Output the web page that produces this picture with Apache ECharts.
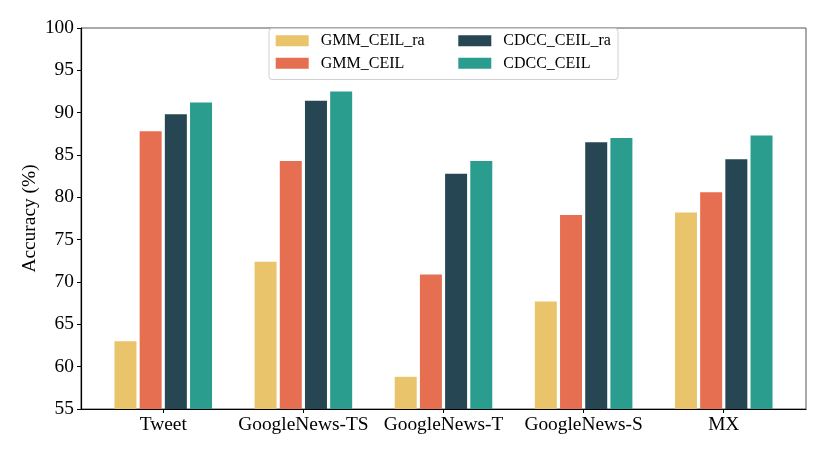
<!DOCTYPE html>
<html>
<head>
<meta charset="utf-8">
<script src="https://cdn.jsdelivr.net/npm/echarts@6/dist/echarts.min.js"></script>
<style>
  html, body { margin: 0; padding: 0; background: #fff; }
  #chart { width: 830px; height: 457px; }
</style>
</head>
<body>
<div id="chart"></div>
<script>
// data
const categories = ['Tweet', 'GoogleNews-TS', 'GoogleNews-T', 'GoogleNews-S', 'MX'];
const gmmCeilRa  = [63.0, 72.4, 58.8, 67.7, 78.2];
const gmmCeil    = [87.8, 84.3, 70.9, 77.9, 80.6];
const cdccCeilRa = [89.8, 91.4, 82.8, 86.5, 84.5];
const cdccCeil   = [91.2, 92.5, 84.3, 87.0, 87.3];
const yTicks = [55, 60, 65, 70, 75, 80, 85, 90, 95, 100];

const FONT = '"Liberation Serif", "Times New Roman", serif';
const positions = categories.map((_, i) => i);

function bars(name, values, color) {
  return {
    name: name,
    type: 'bar',
    data: values.map((v, i) => [positions[i], v]),
    barWidth: 22,
    barGap: '14.5%',
    itemStyle: { color: color },
    emphasis: { disabled: true }
  };
}

const chart = echarts.init(document.getElementById('chart'), null, { renderer: 'canvas' });

chart.setOption({
  animation: false,
  backgroundColor: '#fff',
  textStyle: { fontFamily: FONT },
  grid: {
    left: 81, right: 24, top: 28, bottom: 48,
    show: true, borderColor: '#555', borderWidth: 1
  },
  graphic: [{
    type: 'rect',
    z: 3,
    shape: { x: 269, y: 28.5, width: 349, height: 51, r: 3 },
    style: { fill: 'rgba(255,255,255,0.85)', stroke: '#d0d0d0', lineWidth: 1 }
  }],
  legend: [
    {
      orient: 'vertical', left: 275.7, top: 32.7, padding: 0,
      itemWidth: 33, itemHeight: 11, itemGap: 6.6, icon: 'rect',
      data: ['GMM_CEIL_ra', 'GMM_CEIL'],
      textStyle: { fontFamily: FONT, fontSize: 16, color: '#000', lineHeight: 16, padding: [0, 0, 0, 7] }
    },
    {
      orient: 'vertical', left: 458.3, top: 32.7, padding: 0,
      itemWidth: 33, itemHeight: 11, itemGap: 6.6, icon: 'rect',
      data: ['CDCC_CEIL_ra', 'CDCC_CEIL'],
      textStyle: { fontFamily: FONT, fontSize: 16, color: '#000', lineHeight: 16, padding: [0, 0, 0, 7] }
    }
  ],
  xAxis: {
    type: 'value',
    min: -0.587,
    max: 4.587,
    splitLine: { show: false },
    axisLine: { onZero: false, lineStyle: { color: '#000', width: 1.2 } },
    axisTick: { show: true, length: 4, customValues: positions, lineStyle: { color: '#000' } },
    axisLabel: {
      customValues: positions,
      formatter: v => categories[Math.round(v)],
      fontFamily: FONT, fontSize: 19.4, color: '#000', margin: 6
    }
  },
  yAxis: {
    type: 'value',
    min: 55, max: 100, interval: 5,
    name: 'Accuracy (%)',
    nameLocation: 'middle',
    nameGap: 42,
    nameMoveOverlap: false,
    nameTextStyle: { fontFamily: FONT, fontSize: 19.4, color: '#000' },
    splitLine: { show: false },
    axisLine: { show: true, onZero: false, lineStyle: { color: '#000', width: 1.2 } },
    axisTick: { show: true, length: 4, lineStyle: { color: '#000' } },
    axisLabel: {
      formatter: v => (yTicks.indexOf(v) >= 0 ? String(v) : ''),
      fontFamily: FONT, fontSize: 19.4, color: '#000', margin: 7
    }
  },
  series: [
    bars('GMM_CEIL_ra', gmmCeilRa, '#E9C46A'),
    bars('GMM_CEIL', gmmCeil, '#E76F51'),
    bars('CDCC_CEIL_ra', cdccCeilRa, '#264653'),
    bars('CDCC_CEIL', cdccCeil, '#2A9D8F')
  ]
});
</script>
</body>
</html>
